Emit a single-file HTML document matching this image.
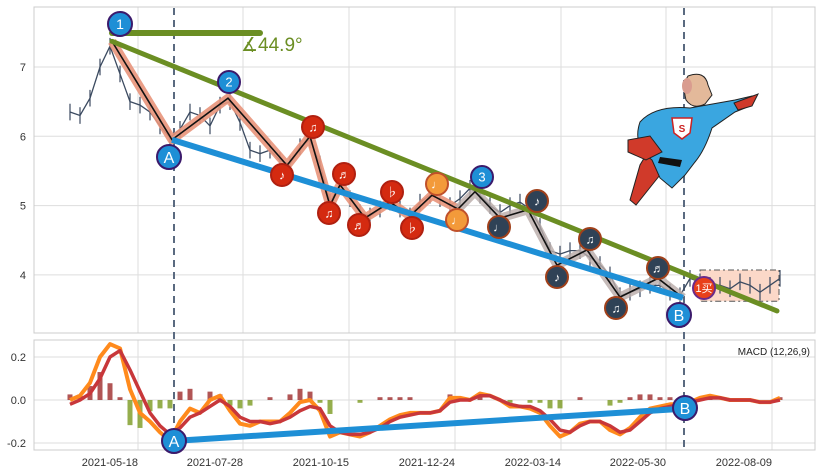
<!DOCTYPE html>
<html><head><meta charset="utf-8"><style>
html,body{margin:0;padding:0;background:#fff;}
svg{display:block;font-family:"Liberation Sans","Noto Sans CJK SC",sans-serif;}
</style></head><body>
<svg id="chart" width="822" height="471" viewBox="0 0 822 471" xmlns="http://www.w3.org/2000/svg">
<g id="grid"></g>
<rect x="34" y="7" width="781" height="326" fill="none" stroke="#ccc"/>
<rect x="34" y="340" width="781" height="110" fill="none" stroke="#ccc"/>
<g id="ticks"></g>
<g id="marks"></g>
<g id="hero">
  <path d="M655 140 L640 165 L630 200 L636 205 L652 185 L668 165 Z" fill="#d03a2a" stroke="#222" stroke-width="1"/>
  <path d="M640 122 Q655 105 690 108 L735 100 L752 96 L750 106 L735 112 L712 128 Q705 150 695 162 L685 175 L672 188 L660 178 L652 160 Q632 145 640 122 Z" fill="#3aa6e0" stroke="#222" stroke-width="1"/>
  <path d="M734 103 L758 94 L752 106 L738 110 Z" fill="#d03a2a" stroke="#222" stroke-width="1"/>
  <path d="M628 140 L650 136 L662 152 L646 160 L628 152 Z" fill="#d03a2a" stroke="#222" stroke-width="1"/>
  <path d="M660 157 L682 160 L680 167 L658 163 Z" fill="#111"/>
  <path d="M672 118 L692 118 L690 133 L682 139 L674 133 Z" fill="#fff" stroke="#c22" stroke-width="1.5"/>
  <text x="682" y="132" font-size="10" fill="#c22" text-anchor="middle" font-weight="bold">S</text>
  <path d="M688 76 Q705 70 708 85 L712 95 L705 104 Q693 110 686 100 Q682 85 688 76 Z" fill="#e3b99a" stroke="#222" stroke-width="1"/>
  <ellipse cx="687" cy="86" rx="5" ry="8" fill="#d99c8f"/>
</g>
<g id="ann"></g>
</svg>
<script>
const NS="http://www.w3.org/2000/svg";
// ---------- data ----------
const priceValues=[6.35,6.3,6.55,7.0,7.3,6.9,6.5,6.45,6.35,6.15,5.98,6.1,6.35,6.3,6.15,6.45,6.5,6.2,5.8,5.75,5.8,5.65,5.6,5.85,5.95,5.6,5.05,5.3,5.1,4.9,4.85,4.95,5.05,4.95,4.85,5.05,5.15,5.1,5.0,5.1,5.25,5.15,5.0,4.9,5.0,5.05,4.95,4.7,4.35,4.3,4.35,4.35,4.25,4.15,4.0,3.7,3.75,3.8,3.85,3.85,3.75,3.7,3.95,3.9,3.85,3.85,3.8,3.9,3.85,3.75,3.85,3.95];
const difValues=[0.0,0.02,0.08,0.2,0.26,0.24,0.05,-0.06,-0.1,-0.15,-0.19,-0.1,-0.04,-0.06,0.0,0.02,-0.05,-0.11,-0.12,-0.1,-0.1,-0.1,-0.06,-0.01,0.0,-0.05,-0.17,-0.15,-0.16,-0.17,-0.15,-0.12,-0.09,-0.07,-0.06,-0.06,-0.06,-0.05,0.01,0.01,0.0,0.03,0.02,0.0,-0.03,-0.03,-0.04,-0.06,-0.12,-0.17,-0.15,-0.11,-0.1,-0.1,-0.14,-0.16,-0.13,-0.08,-0.04,-0.03,-0.02,-0.02,-0.01,0.01,0.02,0.01,0.0,0.0,0.0,-0.01,-0.01,0.01];
const deaValues=[-0.02,0.0,0.03,0.1,0.2,0.23,0.14,0.04,-0.06,-0.12,-0.16,-0.13,-0.08,-0.06,-0.03,0.0,-0.03,-0.08,-0.1,-0.1,-0.11,-0.1,-0.08,-0.05,-0.03,-0.04,-0.12,-0.15,-0.16,-0.16,-0.15,-0.13,-0.1,-0.08,-0.07,-0.06,-0.06,-0.05,-0.01,0.0,0.0,0.02,0.02,0.0,-0.02,-0.03,-0.03,-0.05,-0.09,-0.14,-0.15,-0.12,-0.1,-0.1,-0.12,-0.15,-0.14,-0.1,-0.06,-0.04,-0.03,-0.02,-0.01,0.0,0.01,0.01,0.0,0.0,0.0,-0.01,-0.01,0.0];
const pivotIdx=[4.2,10.2,15.8,21.7,24,26,27,29.5,32,34,36.2,38.8,40.5,43,45.8,48.7,51.7,55,58.8,61.3];
const pivotVals=[7.37,5.95,6.55,5.58,6.0,5.0,5.3,4.82,5.05,4.85,5.15,4.95,5.2,4.82,4.94,4.14,4.36,3.68,3.95,3.67];
const dateLabels=["2021-05-18","2021-07-28","2021-10-15","2021-12-24","2022-03-14","2022-05-30","2022-08-09"];
const dateIdx=[6.8,17.3,27.9,38.5,49.1,59.6,70.2];
const priceTicks=[4,5,6,7];
const macdTicks=[-0.2,0.0,0.2];
// ---------- scales ----------
const xS=i=>70+i*10;
const yP=v=>67+(7-v)*69.3;
const yM=v=>400-v*215;
function el(tag,attrs,parent,txt){const e=document.createElementNS(NS,tag);for(const k in attrs)e.setAttribute(k,attrs[k]);if(txt!==undefined)e.textContent=txt;parent.appendChild(e);return e;}
const grid=document.getElementById('grid'),ticks=document.getElementById('ticks'),marks=document.getElementById('marks'),ann=document.getElementById('ann');
dateIdx.forEach((d,k)=>{
  const x=xS(d);
  const g1=el('line',{x1:x,x2:x,y1:7,y2:333,stroke:'#ddd'},grid);
  
  
  el('line',{x1:x,x2:x,y1:340,y2:450,stroke:'#ddd'},grid);
  const t=el('text',{x:x,y:466,'font-size':11,fill:'#333','text-anchor':'end'},ticks,dateLabels[k]);
  
  
});
priceTicks.forEach(v=>{
  el('line',{x1:34,x2:815,y1:yP(v),y2:yP(v),stroke:'#ddd'},grid);
  const t=el('text',{x:26,y:yP(v)+4,'font-size':11,fill:'#333','text-anchor':'end'},ticks,String(v));
  
  
});
macdTicks.forEach(v=>{
  el('line',{x1:34,x2:815,y1:yM(v),y2:yM(v),stroke:'#ddd'},grid);
  const t=el('text',{x:26,y:yM(v)+4,'font-size':11,fill:'#333','text-anchor':'end'},ticks,v.toFixed(1));
  
  
});
[10.4,61.4].forEach(i=>{
  const l=el('line',{x1:xS(i),x2:xS(i),y1:8,y2:450,stroke:'#5a6a80','stroke-width':2,'stroke-dasharray':'7,5'},marks);
  
  
});
const bx=el('rect',{x:xS(63),y:yP(4.07),width:xS(70.9)-xS(63),height:yP(3.62)-yP(4.07),fill:'#fbd8c8',stroke:'#555','stroke-dasharray':'6,3,2,3'},marks);


priceValues.forEach((v,i)=>{
  const b=el('line',{x1:xS(i),x2:xS(i),y1:yP(v+0.12),y2:yP(v-0.12),stroke:'#3b4a60','stroke-width':1.2},marks);
  
  
});
const pl=el('polyline',{points:priceValues.map((v,i)=>xS(i)+','+yP(v)).join(' '),fill:'none',stroke:'#3b4a60','stroke-width':1.3},marks);


const zpts=pivotIdx.map((d,k)=>xS(d)+','+yP(pivotVals[k]));
const h1=el('polyline',{points:zpts.slice(0,12).join(' '),fill:'none',stroke:'#e8937a','stroke-width':9,'stroke-linejoin':'round',opacity:0.9},marks);


const h2=el('polyline',{points:zpts.slice(11).join(' '),fill:'none',stroke:'#b8aaa8','stroke-width':9,'stroke-linejoin':'round',opacity:0.8},marks);


const zz=el('polyline',{points:zpts.join(' '),fill:'none',stroke:'#111','stroke-width':1.6},marks);


const gh=el('line',{x1:xS(4.2),y1:33,x2:260,y2:33,stroke:'#6b8e23','stroke-width':6,'stroke-linecap':'round'},marks);


const gt=el('line',{x1:xS(4.2),y1:yP(7.37),x2:xS(70.7),y2:yP(3.48),stroke:'#6b8e23','stroke-width':5,'stroke-linecap':'round'},marks);


const bt=el('line',{x1:xS(10.2),y1:yP(5.95),x2:xS(61.3),y2:yP(3.67),stroke:'#1e8fd6','stroke-width':6},marks);


const at=el('text',{x:241,y:51,'font-size':19,fill:'#6b8e23'},marks,'∡44.9°');


difValues.forEach((v,i)=>{
  const h=(v-deaValues[i])*1.3;
  const r=el('rect',{x:xS(i)-2.5,y:Math.min(yM(0),yM(h)),width:5,height:Math.abs(yM(h)-yM(0)),fill:h>=0?'#9e2a2b':'#7a9a20',opacity:0.8},marks);
  
  
});
const dif=el('polyline',{points:difValues.map((v,i)=>xS(i)+','+yM(v)).join(' '),fill:'none',stroke:'#ff8a1c','stroke-width':4,'stroke-linejoin':'round'},marks);


const dea=el('polyline',{points:deaValues.map((v,i)=>xS(i)+','+yM(v)).join(' '),fill:'none',stroke:'#c8373a','stroke-width':3.5,'stroke-linejoin':'round'},marks);


const mb=el('line',{x1:xS(10.5),y1:yM(-0.19),x2:xS(61.5),y2:yM(-0.04),stroke:'#1e8fd6','stroke-width':6},marks);


const ml=el('text',{x:810,y:355,'font-size':10,fill:'#222','text-anchor':'end'},marks,'MACD (12,26,9)');


function mk(x,y,txt,fill,stroke,r,fs,name){
  const g=el('g',{},ann);
  
  
  el('circle',{cx:x,cy:y,r:r,fill:fill,stroke:stroke,'stroke-width':2},g);
  el('text',{x:x,y:y+fs*0.36,'font-size':fs,fill:'#fff','text-anchor':'middle'},g,txt);
}
mk(120,24,'1','#1e8fd6','#3b1a6b',12,14,'wave-marker-1');
mk(229,82,'2','#1e8fd6','#3b1a6b',11,13,'wave-marker-2');
mk(482,177,'3','#1e8fd6','#3b1a6b',11,13,'wave-marker-3');
mk(169,157,'A','#1e8fd6','#3b1a6b',12,16,'point-a-marker');
mk(679,315,'B','#1e8fd6','#3b1a6b',12,16,'point-b-marker');
mk(174,441,'A','#1e8fd6','#3b1a6b',12,16,'macd-point-a');
mk(685,408,'B','#1e8fd6','#3b1a6b',12,16,'macd-point-b');
[[282,175,'♪'],[313,127,'♫'],[344,174,'♬'],[329,213,'♫'],[359,225,'♬'],[392,192,'♭'],[412,228,'♭']].forEach(p=>mk(p[0],p[1],p[2],'#d42a10','#b02010',11,12,'note-marker-red'));
[[437,184,'♩'],[457,220,'♩']].forEach(p=>mk(p[0],p[1],p[2],'#f39a3a','#c0502a',11,12,'note-marker-orange'));
[[499,227,'♩'],[537,201,'♪'],[557,277,'♪'],[590,239,'♫'],[616,308,'♫'],[658,268,'♬']].forEach(p=>mk(p[0],p[1],p[2],'#2f4256','#a0401a',11,12,'note-marker-dark'));
mk(704,288,'1买','#e8401a','#6b2a8a',11,11,'buy-signal-marker');
</script>
</body></html>
